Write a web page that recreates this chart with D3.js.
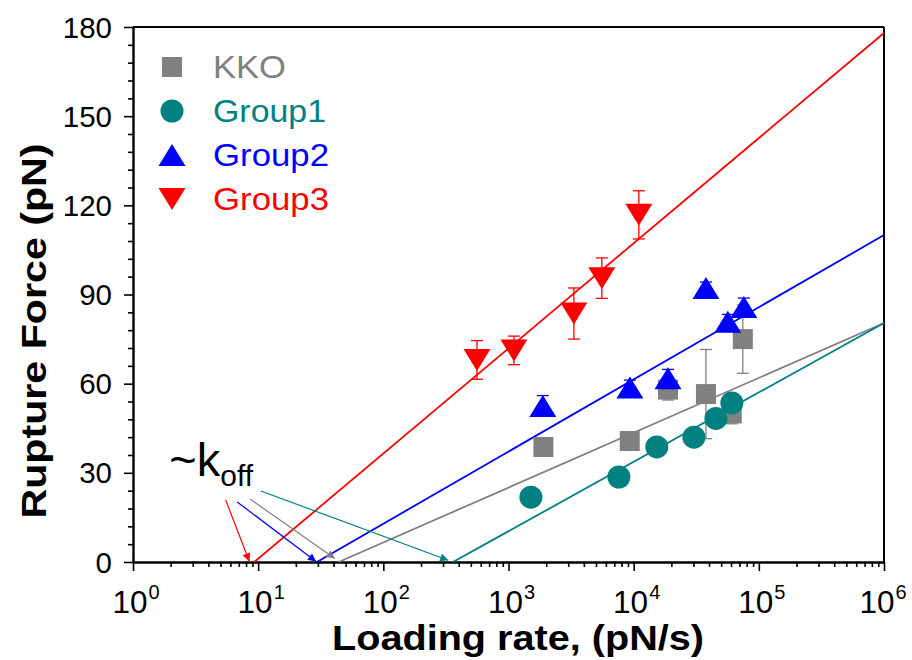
<!DOCTYPE html>
<html><head><meta charset="utf-8">
<script src="https://cdn.jsdelivr.net/npm/d3@7"></script>
<style>
body{margin:0;background:#fff}
svg{display:block}
text{font-family:"Liberation Sans",Arial,sans-serif}
</style>
</head><body>
<svg id="chart" width="912" height="660"></svg>
<script>
// ---------- data ----------
const seriesNames  = ["KKO", "Group1", "Group2", "Group3"];
const seriesColors = ["#808080", "#008080", "#0000ff", "#ff0000"];
const seriesShapes = ["square", "circle", "triangle", "invtriangle"];

const kkoRate   = [1900, 9300, 18800, 37800, 60800, 74500];
const kkoForce  = [38.7, 40.7, 58, 56.5, 50, 75];
const kkoErr    = [3, 1.5, 3.5, 15, 3.5, 11.5];

const g1Rate    = [1510, 7620, 15300, 30300, 45400, 60900];
const g1Force   = [21.8, 28.6, 38.7, 42, 48.3, 53.5];
const g1Err     = [2, 1.5, 1.5, 1.5, 2, 2.5];

const g2Rate    = [1880, 9330, 18800, 37800, 56500, 75900];
const g2Force   = [52.5, 58.7, 61.8, 92.2, 80.8, 85.8];
const g2Err     = [3.5, 2.5, 3, 2, 2.5, 3];

const g3Rate    = [560, 1105, 3330, 5570, 11000];
const g3Force   = [68, 71.2, 83.6, 95.5, 116.8];
const g3Err     = [6.5, 4.8, 8.6, 6.8, 8.1];

// linear fits F = a*log10(r) + b, given by x-intercept and value at 1e6
const fitIntercept = [44, 360, 29.5, 9.3];
const fitEndForce  = [80.4, 80.4, 110, 178];

// ~koff arrows (KKO, Group1, Group2, Group3)
const arrowStartRate  = [8.6, 10.5, 6.8, 5.5];
const arrowStartForce = [21.2, 23.9, 20.2, 20.9];
const arrowEndRate    = [41, 330, 29, 8.5];
const arrowEndForce   = [1.2, 0.6, 0.2, 0.2];

const xTickExponents = [0, 1, 2, 3, 4, 5, 6];
const yTickValues    = [0, 30, 60, 90, 120, 150, 180];
const xTitle = "Loading rate, (pN/s)";
const yTitle = "Rupture Force (pN)";

// ---------- layout ----------
const svg = d3.select("#chart");
const L = 133, R = 884, T = 27, B = 562;
const x = d3.scaleLog().domain([1, 1e6]).range([L, R]);
const y = d3.scaleLinear().domain([0, 180]).range([B, T]);

const series = [
  {rate: kkoRate, force: kkoForce, err: kkoErr},
  {rate: g1Rate,  force: g1Force,  err: g1Err},
  {rate: g2Rate,  force: g2Force,  err: g2Err},
  {rate: g3Rate,  force: g3Force,  err: g3Err}
];

function shapePath(shape) {
  if (shape === "square") { const s = 10; return `M${-s},${-s}H${s}V${s}H${-s}Z`; }
  if (shape === "circle") { const r = 11.5; return `M${r},0A${r},${r} 0 1,1 ${-r},0A${r},${r} 0 1,1 ${r},0Z`; }
  if (shape === "triangle") { return "M0,-11L13.5,11L-13.5,11Z"; }
  return "M0,11L13.5,-11L-13.5,-11Z";
}

// ---------- axes ----------
const decades = xTickExponents.map(e => Math.pow(10, e));
const minorX = [];
for (let e = 0; e < 6; e++) for (let k = 2; k <= 9; k++) minorX.push(k * Math.pow(10, e));
const minorY = d3.range(0, 181, 6).filter(v => v % 30 !== 0);

// frame top/right
svg.append("line").attr("x1", L).attr("x2", R).attr("y1", T).attr("y2", T)
   .attr("stroke", "#000").attr("stroke-width", 2);
svg.append("line").attr("x1", R).attr("x2", R).attr("y1", T).attr("y2", B)
   .attr("stroke", "#000").attr("stroke-width", 2);

const gx = svg.append("g").attr("transform", `translate(0,${B})`);
gx.call(d3.axisBottom(x).tickValues(decades).tickSize(9).tickSizeOuter(0).tickFormat(""));
gx.append("g").call(d3.axisBottom(x).tickValues(minorX).tickSize(5).tickSizeOuter(0).tickFormat(""))
  .select(".domain").remove();
const gy = svg.append("g").attr("transform", `translate(${L},0)`);
gy.call(d3.axisLeft(y).tickValues(yTickValues).tickSize(9).tickSizeOuter(0).tickFormat(""));
gy.append("g").call(d3.axisLeft(y).tickValues(minorY).tickSize(5).tickSizeOuter(0).tickFormat(""))
  .select(".domain").remove();
svg.selectAll(".domain").attr("stroke-width", 2.4);
svg.selectAll(".tick line").attr("stroke-width", 1.6);

// y tick labels
gy.selectAll(".ylab").data(yTickValues).join("text").attr("class", "ylab")
  .attr("x", -21).attr("y", d => y(d)).attr("dy", "0.36em").attr("fill", "#000")
  .attr("text-anchor", "end").attr("font-size", 29.5).text(d => d);

// x tick labels with superscripts
const xl = gx.selectAll(".xlab").data(xTickExponents).join("text").attr("class", "xlab")
  .attr("x", d => x(Math.pow(10, d)) + (d === 6 ? -1 : 3)).attr("y", 51).attr("fill", "#000")
  .attr("text-anchor", "middle").attr("font-size", 31.5);
xl.append("tspan").text("10");
xl.append("tspan").attr("font-size", 20).attr("dy", -14).attr("dx", 1).text(d => d);

// titles
svg.append("text").attr("x", 518).attr("y", 650).attr("text-anchor", "middle")
  .attr("font-size", 35).attr("font-weight", "bold")
  .attr("textLength", 372).attr("lengthAdjust", "spacingAndGlyphs").text(xTitle);
svg.append("text").attr("transform", "translate(46,331) rotate(-90)")
  .attr("text-anchor", "middle").attr("font-size", 35).attr("font-weight", "bold")
  .attr("textLength", 375).attr("lengthAdjust", "spacingAndGlyphs").text(yTitle);

// ---------- fit lines ----------
const plot = svg.append("g");
plot.selectAll(".fit").data(seriesNames.map((n, i) => i)).join("line")
  .attr("x1", i => x(fitIntercept[i])).attr("y1", y(0))
  .attr("x2", x(1e6)).attr("y2", i => y(fitEndForce[i]))
  .attr("stroke", i => seriesColors[i]).attr("stroke-width", 1.8);

// ---------- arrows ----------
const defs = svg.append("defs");
seriesColors.forEach((c, i) => {
  defs.append("marker").attr("id", "ah" + i).attr("viewBox", "0 -5 10 10")
    .attr("refX", 10).attr("refY", 0).attr("markerWidth", 11).attr("markerHeight", 8)
    .attr("markerUnits", "userSpaceOnUse").attr("orient", "auto")
    .append("path").attr("d", "M0,-5L10,0L0,5Z").attr("fill", c);
});
plot.selectAll(".arr").data(seriesNames.map((n, i) => i)).join("line")
  .attr("x1", i => x(arrowStartRate[i])).attr("y1", i => y(arrowStartForce[i]))
  .attr("x2", i => x(arrowEndRate[i])).attr("y2", i => y(arrowEndForce[i]))
  .attr("stroke", i => seriesColors[i]).attr("stroke-width", 1.2)
  .attr("marker-end", i => `url(#ah${i})`);

const kt = svg.append("text").attr("x", x(1.95)).attr("y", y(28.8)).attr("font-size", 47);
kt.append("tspan").text("~k");
kt.append("tspan").attr("font-size", 30).attr("dy", 10).text("off");

// ---------- error bars & markers ----------
series.forEach((s, i) => {
  const g = plot.append("g");
  const idx = s.rate.map((d, j) => j);
  const c = seriesColors[i];
  g.selectAll(".eb").data(idx).join("line").attr("class", "eb")
    .attr("x1", j => x(s.rate[j])).attr("x2", j => x(s.rate[j]))
    .attr("y1", j => y(s.force[j] - s.err[j])).attr("y2", j => y(s.force[j] + s.err[j]))
    .attr("stroke", c).attr("stroke-width", 1.3);
  [["capLo", -1], ["capHi", 1]].forEach(([cls, sign]) => {
    g.selectAll("." + cls).data(idx).join("line").attr("class", cls)
      .attr("x1", j => x(s.rate[j]) - 6).attr("x2", j => x(s.rate[j]) + 6)
      .attr("y1", j => y(s.force[j] + sign * s.err[j]))
      .attr("y2", j => y(s.force[j] + sign * s.err[j]))
      .attr("stroke", c).attr("stroke-width", 1.3);
  });
  g.selectAll(".pt").data(idx).join("path").attr("class", "pt")
    .attr("transform", j => `translate(${x(s.rate[j])},${y(s.force[j])})`)
    .attr("d", shapePath(seriesShapes[i])).attr("fill", c);
});

// ---------- legend ----------
const leg = svg.append("g");
seriesNames.forEach((n, i) => {
  const cy = 67 + i * 44;
  leg.append("path").attr("transform", `translate(172,${cy})`)
    .attr("d", shapePath(seriesShapes[i])).attr("fill", seriesColors[i]);
  leg.append("text").attr("x", 213).attr("y", cy + 11).attr("font-size", 32)
    .attr("fill", seriesColors[i])
    .attr("textLength", [73, 113, 116, 116][i]).attr("lengthAdjust", "spacingAndGlyphs")
    .text(n);
});
</script>
</body></html>
